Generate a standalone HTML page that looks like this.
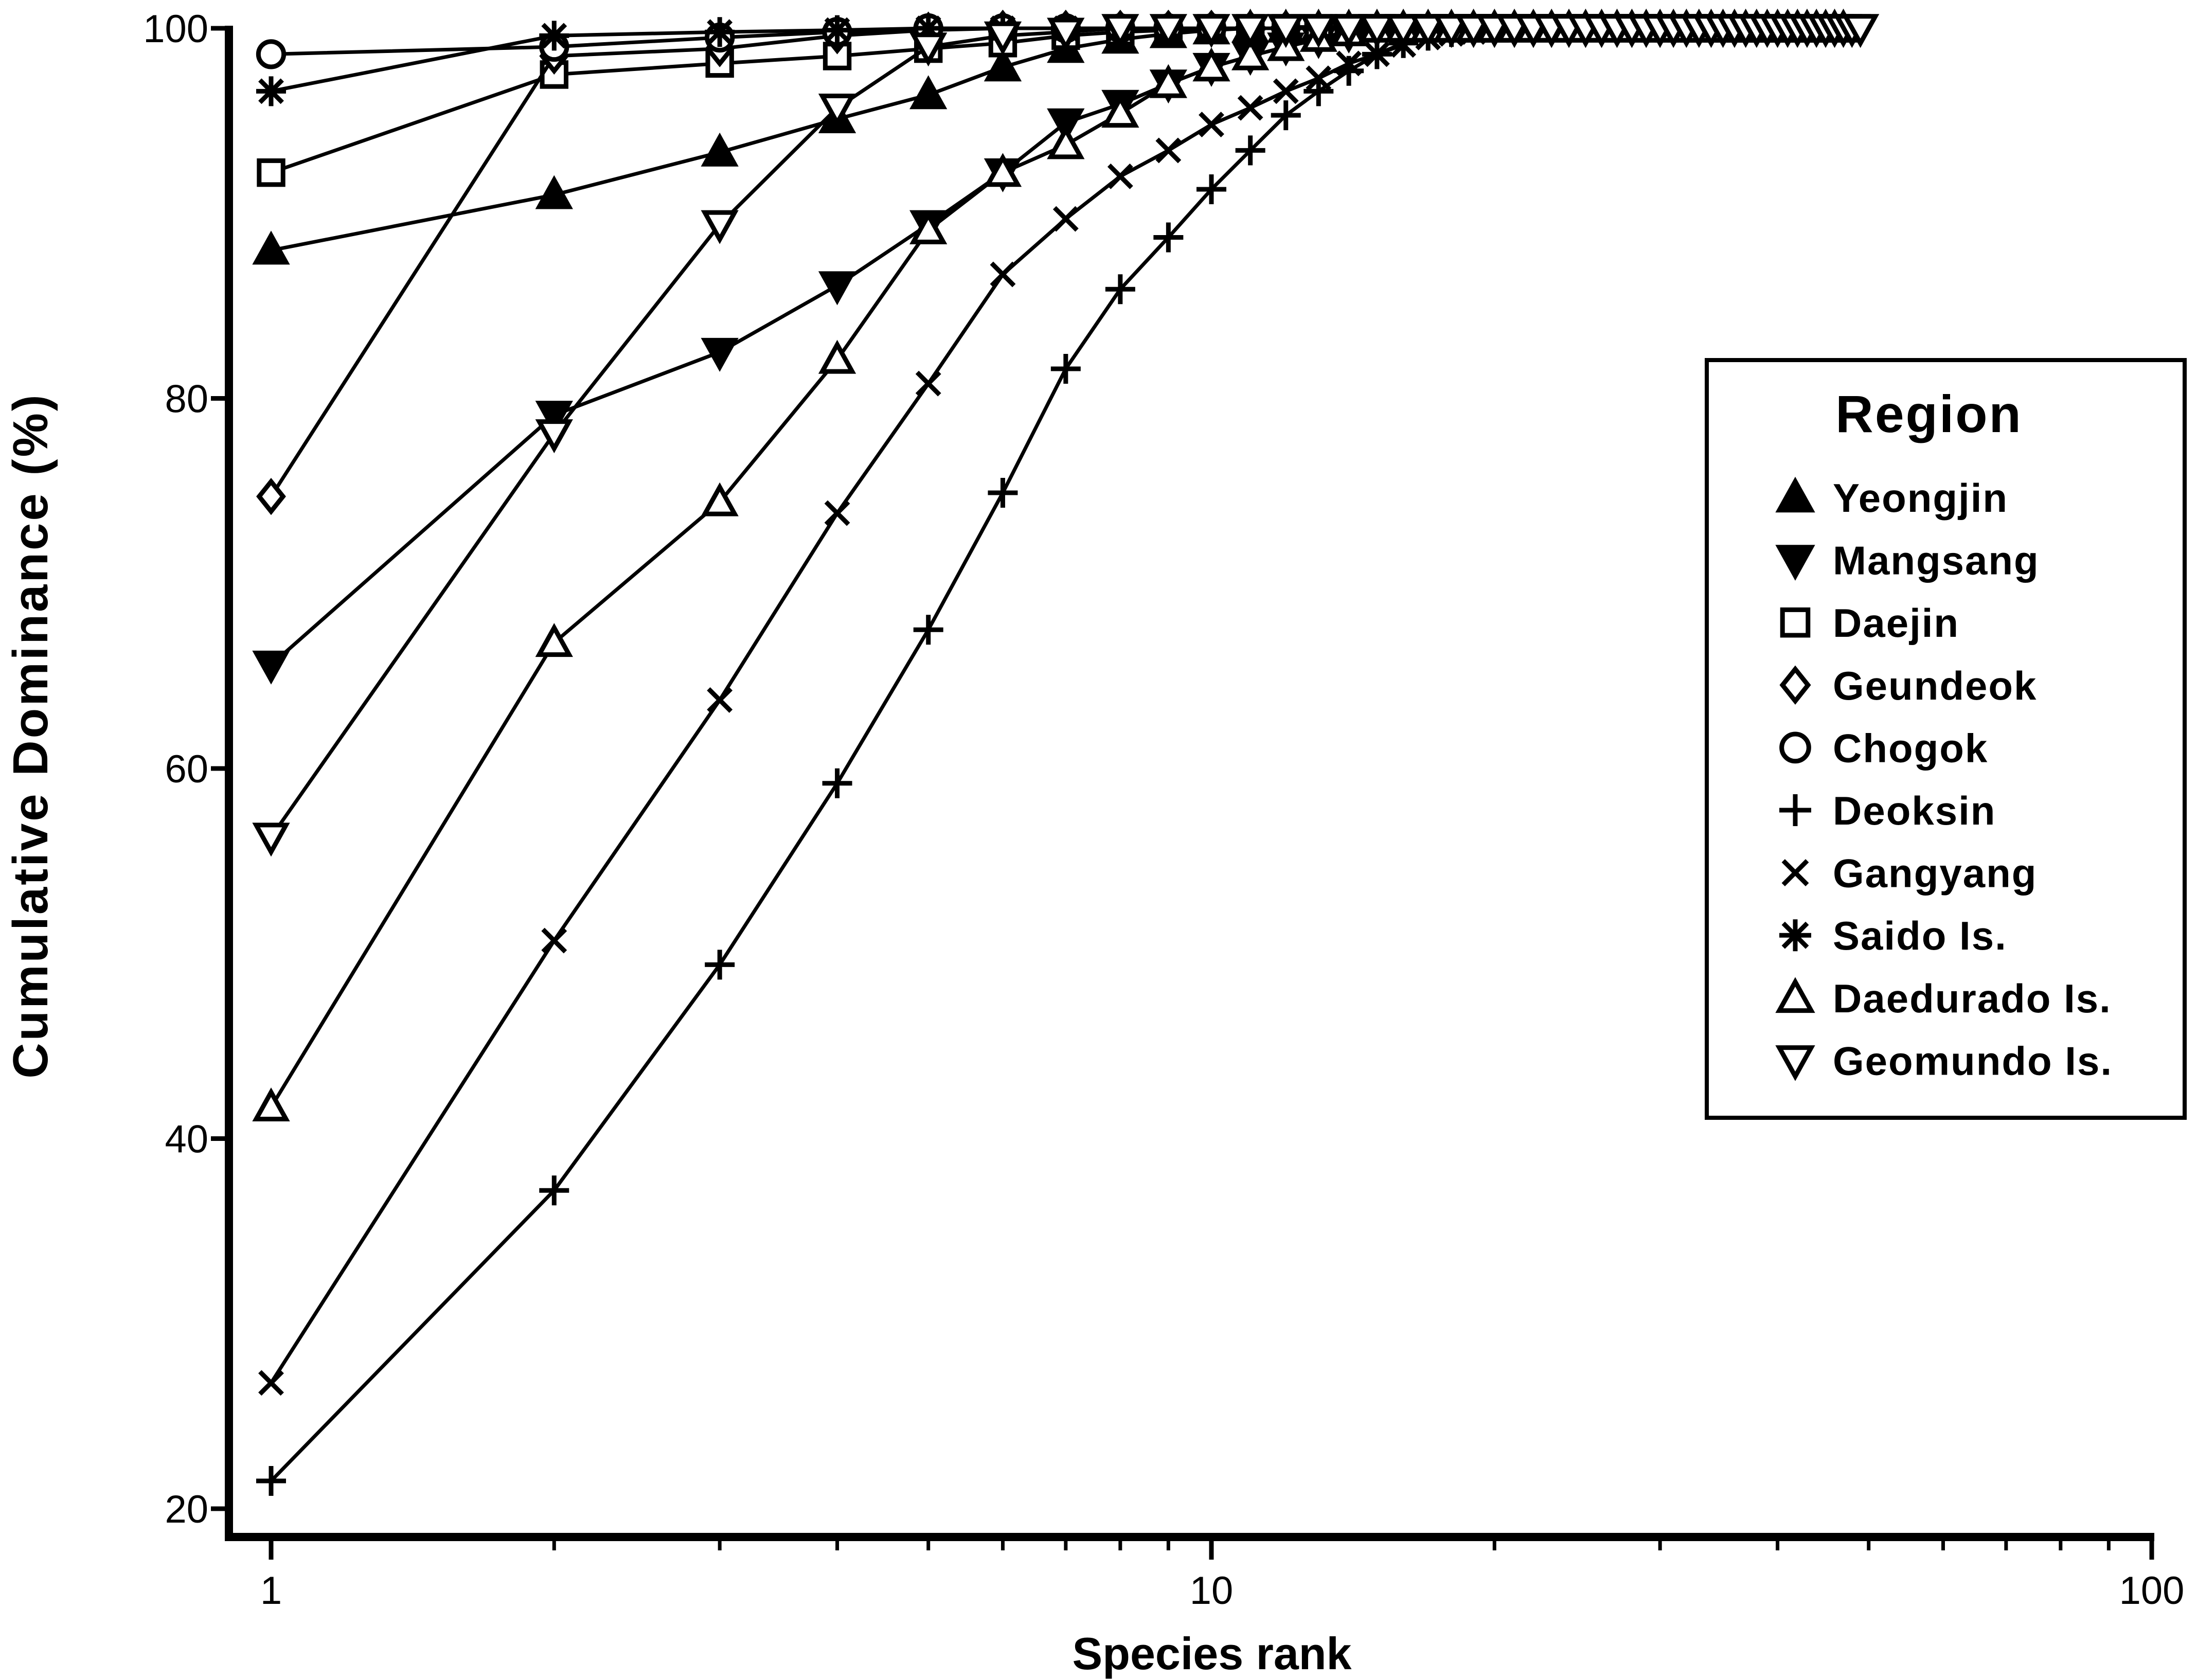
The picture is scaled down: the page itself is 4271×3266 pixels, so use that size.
<!DOCTYPE html>
<html><head><meta charset="utf-8"><style>
html,body{margin:0;padding:0;background:#fff;}
svg{display:block;font-family:"Liberation Sans",Arial,sans-serif;}
</style></head><body>
<svg id="chart" width="4271" height="3266" viewBox="0 0 4271 3266" xmlns="http://www.w3.org/2000/svg">
<rect width="4271" height="3266" fill="#fff"/>
<g id="axes"></g>
<g id="series"></g>
<text x="0" y="0" transform="translate(92,1430) rotate(-90)" text-anchor="middle" font-size="96" letter-spacing="4" font-weight="bold">Cumulative Dominance (%)</text>
<text x="2356" y="3245" text-anchor="middle" font-size="88" font-weight="bold">Species rank</text>
<g id="legend">
<rect x="3318" y="700" width="929" height="1473" fill="#fff" stroke="#000" stroke-width="8"/>
<text x="3750" y="840" text-anchor="middle" font-size="102" letter-spacing="3" font-weight="bold">Region</text>
</g>
</svg>
<script>
const names = ["Yeongjin","Mangsang","Daejin","Geundeok","Chogok","Deoksin","Gangyang","Saido Is.","Daedurado Is.","Geomundo Is."];
const markers = ["triUp","triDown","square","diamond","circle","plus","cross","star","triUpOpen","triDownOpen"];
function tail(a,n){const r=a.slice();while(r.length<n)r.push(100);return r;}
const yeongjin = tail([88.0,91.0,93.3,95.1,96.4,97.9,98.9,99.4,99.7,99.9],14);
const mangsang = tail([65.6,79.1,82.5,86.1,89.4,92.2,94.9,95.9,97.0,97.9,98.5,99.0,99.4,99.7],30);
const daejin = tail([92.2,97.5,98.1,98.5,98.9,99.2,99.6,99.8,99.9],20);
const geundeok = tail([74.7,98.5,98.9,99.6,99.9],12);
const chogok = tail([98.6,99.0,99.5,99.8,100],10);
const deoksin = tail([21.5,37.2,49.4,59.2,67.5,74.9,81.6,85.9,88.7,91.3,93.4,95.3,96.6,97.7,98.6,99.2,99.6,99.8],36);
const gangyang = tail([26.8,50.7,63.7,73.8,80.8,86.7,89.7,92.0,93.4,94.8,95.7,96.6,97.3,98.1,98.6,99.1,99.5,99.7,99.8],40);
const saido = tail([96.6,99.6,99.8,99.9],45);
const daedurado = tail([41.7,66.8,74.4,82.1,89.1,92.2,93.7,95.4,97.0,97.9,98.5,99.0,99.5,99.8],47);
const geomundo = tail([56.3,78.1,89.4,95.7,99.0,99.6,99.8],49);
const seriesData = [yeongjin,mangsang,daejin,geundeok,chogok,deoksin,gangyang,saido,daedurado,geomundo];
const yTicks = [20,40,60,80,100];
const xTicks = [1,10,100];

const NS="http://www.w3.org/2000/svg";
const X0=527, XDEC=1828, Y100=55, Y20=2933;
function xScale(r){return X0+Math.log10(r)*XDEC;}
function yScale(v){return Y20-(v-20)/80*(Y20-Y100);}
function mk(tag,attrs,parent){const e=document.createElementNS(NS,tag);for(const k in attrs)e.setAttribute(k,attrs[k]);parent.appendChild(e);return e;}

const axes=document.getElementById('axes');
const ya=mk('line',{x1:445,y1:Y100-5,x2:445,y2:2996,stroke:'#000','stroke-width':16},axes);


const xa=mk('line',{x1:437,y1:2988,x2:xScale(100)+5,y2:2988,stroke:'#000','stroke-width':16},axes);


yTicks.forEach(v=>{
  const y=yScale(v);
  const t=mk('line',{x1:410,y1:y,x2:445,y2:y,stroke:'#000','stroke-width':9},axes);
  
  
  const l=mk('text',{x:405,y:y+27,'text-anchor':'end','font-size':76},axes);
  l.textContent=v;
  
  
});
for(let d=1;d<=10;d*=10){for(let k=2;k<=9;k++){
  const x=xScale(d*k);
  const t=mk('line',{x1:x,y1:2988,x2:x,y2:3014,stroke:'#000','stroke-width':7},axes);
  
  
}}
xTicks.forEach(v=>{
  const x=xScale(v);
  const t=mk('line',{x1:x,y1:2988,x2:x,y2:3032,stroke:'#000','stroke-width':9},axes);
  
  
  const l=mk('text',{x:x,y:3118,'text-anchor':'middle','font-size':76},axes);
  l.textContent=v;
  
  
});

function drawMarker(type,x,y,s,parent){
  const g=mk('g',{},parent);
  const h=s/2, sw=9;
  const tri=(up,fill)=>{const p=up?`${x},${y-h} ${x+h},${y+h*0.8} ${x-h},${y+h*0.8}`:`${x},${y+h} ${x+h},${y-h*0.8} ${x-h},${y-h*0.8}`;mk('polygon',{points:p,fill:fill,stroke:'#000','stroke-width':sw,'stroke-linejoin':'miter'},g);};
  if(type==='triUp')tri(true,'#000');
  else if(type==='triDown')tri(false,'#000');
  else if(type==='triUpOpen')tri(true,'#fff');
  else if(type==='triDownOpen')tri(false,'#fff');
  else if(type==='square')mk('rect',{x:x-h*0.8,y:y-h*0.8,width:h*1.6,height:h*1.6,fill:'#fff',stroke:'#000','stroke-width':sw},g);
  else if(type==='diamond')mk('polygon',{points:`${x},${y-h} ${x+h*0.8},${y} ${x},${y+h} ${x-h*0.8},${y}`,fill:'#fff',stroke:'#000','stroke-width':sw},g);
  else if(type==='circle')mk('circle',{cx:x,cy:y,r:h*0.85,fill:'#fff',stroke:'#000','stroke-width':sw},g);
  else if(type==='plus'){mk('path',{d:`M${x-h} ${y}H${x+h}M${x} ${y-h}V${y+h}`,stroke:'#000','stroke-width':sw},g);}
  else if(type==='cross'){const c=h*0.75;mk('path',{d:`M${x-c} ${y-c}L${x+c} ${y+c}M${x+c} ${y-c}L${x-c} ${y+c}`,stroke:'#000','stroke-width':sw},g);}
  else if(type==='star'){const c=h*0.75;mk('path',{d:`M${x-h} ${y}H${x+h}M${x} ${y-h}V${y+h}M${x-c} ${y-c}L${x+c} ${y+c}M${x+c} ${y-c}L${x-c} ${y+c}`,stroke:'#000','stroke-width':sw},g);}
  return g;
}

const sg=document.getElementById('series');
seriesData.forEach((arr,i)=>{
  const g=mk('g',{},sg);
  
  
  const pts=arr.map((v,j)=>xScale(j+1)+','+yScale(v)).join(' ');
  const pl=mk('polyline',{points:pts,fill:'none',stroke:'#000','stroke-width':7},g);
  
  
  arr.forEach((v,j)=>{
    const m=drawMarker(markers[i],xScale(j+1),yScale(v),58,g);
    
    
  });
});

const lg=document.getElementById('legend');
names.forEach((n,i)=>{
  const y=967+i*121.6;
  const g=mk('g',{},lg);
  
  
  drawMarker(markers[i],3490,y,62,g);
  const t=mk('text',{x:3563,y:y+28,'font-size':78,'letter-spacing':2,'font-weight':'bold'},g);
  t.textContent=n;
});
</script>
</body></html>
